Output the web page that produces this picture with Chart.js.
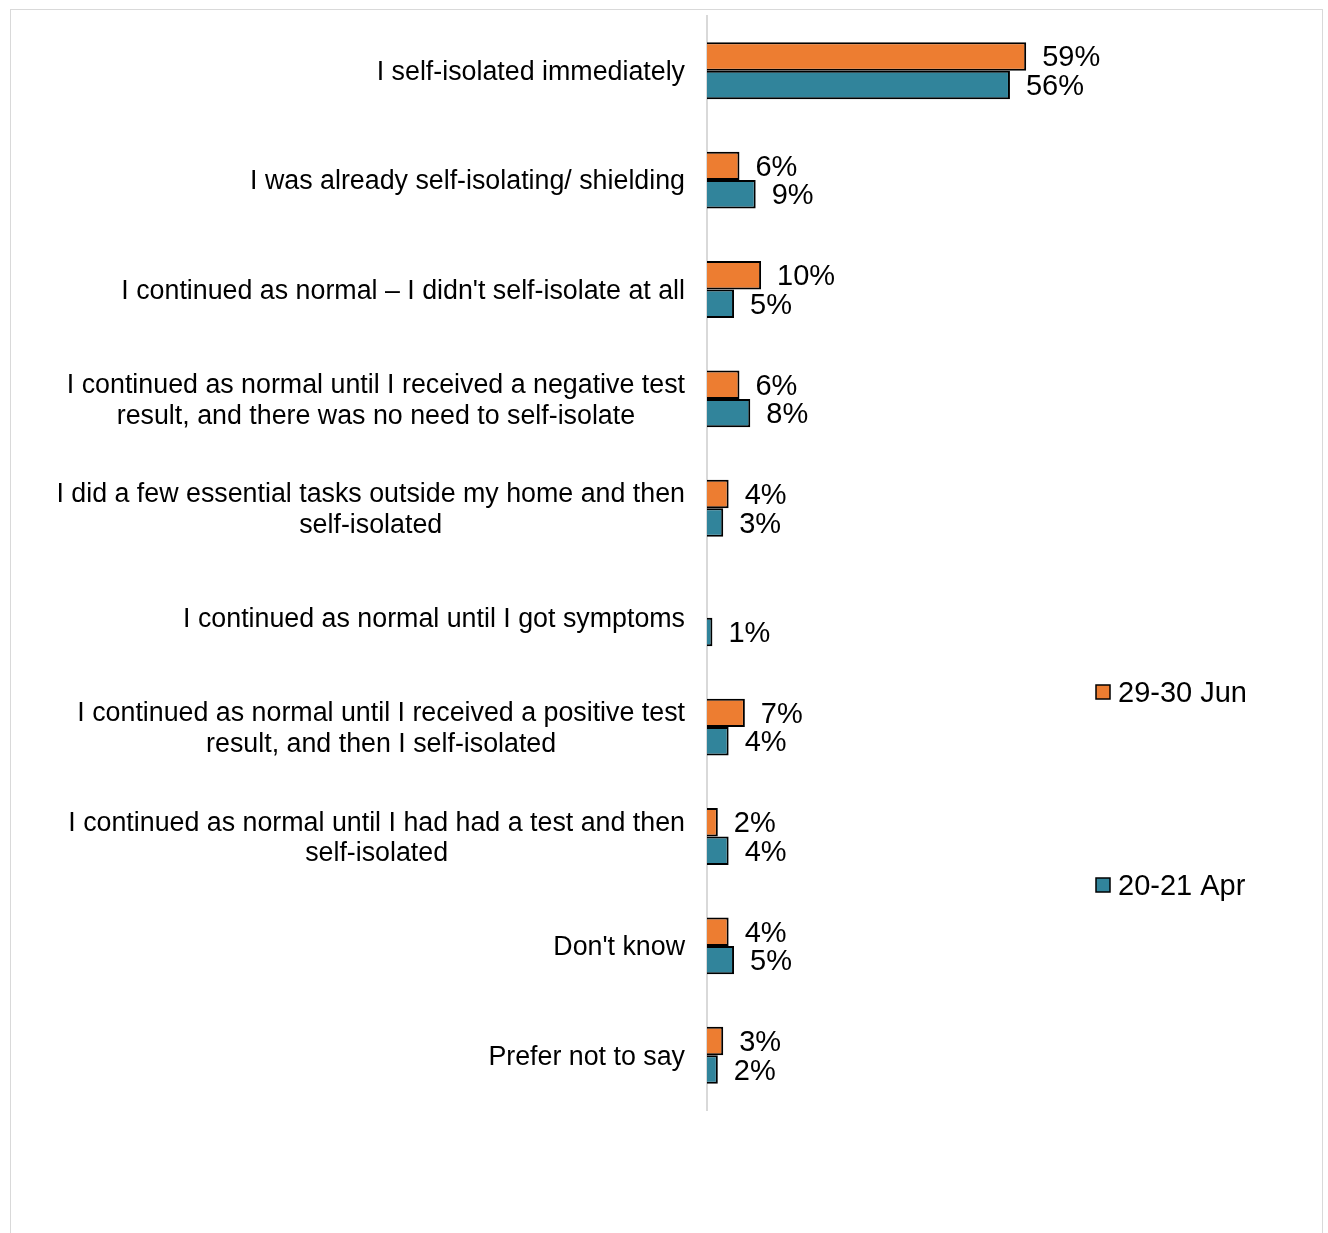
<!DOCTYPE html>
<html>
<head>
<meta charset="utf-8">
<title>Self-isolation behaviour</title>
<script src="https://cdn.jsdelivr.net/npm/chart.js@4.4.1/dist/chart.umd.min.js"></script>
<style>
    html, body { margin: 0; padding: 0; background: #fff; }
    #wrap { position: relative; width: 1328px; height: 1233px; overflow: hidden; }
    #frame { position: absolute; left: 10px; top: 9px; width: 1313px; height: 1300px; border: 1px solid #d9d9d9; box-sizing: border-box; }
    #holder { position: absolute; left: 0; top: 0; width: 1328px; height: 1233px; }
</style>
</head>
<body>
<div id="wrap">
    <div id="frame"></div>
    <div id="holder"><canvas id="grafico"></canvas></div>
</div>
<script>
// --- DATOS ---
const categorias = [
    'I self-isolated immediately',
    'I was already self-isolating/ shielding',
    "I continued as normal \u2013 I didn't self-isolate at all",
    ['I continued as normal until I received a negative test', 'result, and there was no need to self-isolate'],
    ['I did a few essential tasks outside my home and then', 'self-isolated'],
    'I continued as normal until I got symptoms',
    ['I continued as normal until I received a positive test', 'result, and then I self-isolated'],
    ['I continued as normal until I had had a test and then', 'self-isolated'],
    "Don't know",
    'Prefer not to say'
];
const serieJun = [59, 6, 10, 6, 4, null, 7, 2, 4, 3];
const serieAbr = [56, 9, 5, 8, 3, 1, 4, 4, 5, 2];
const nombresSeries = ['29-30 Jun', '20-21 Apr'];
const coloresSeries = ['#ED7D31', '#31849B'];

const FUENTE = '"Liberation Sans", Arial, sans-serif';

// Etiquetas de categoría: cada línea centrada sobre la más ancha, alineadas a la derecha del eje
const etiquetasEje = {
    id: 'etiquetasEje',
    afterDraw(chart) {
        const ctx = chart.ctx;
        const y = chart.scales.y;
        const derecha = chart.chartArea.left - 22;
        const alto = 30.5;
        ctx.save();
        ctx.font = '26.8px ' + FUENTE;
        ctx.fillStyle = '#000';
        ctx.textBaseline = 'middle';
        ctx.textAlign = 'center';
        chart.data.labels.forEach((lab, i) => {
            const lineas = Array.isArray(lab) ? lab : [lab];
            const ancho = Math.max(...lineas.map(l => ctx.measureText(l).width));
            const cx = derecha - ancho / 2;
            const cy = y.getPixelForValue(i) + 2;
            lineas.forEach((l, j) => {
                ctx.fillText(l, cx, cy + (j - (lineas.length - 1) / 2) * alto);
            });
        });
        ctx.restore();
    }
};

// Valores al final de cada barra
const valoresBarras = {
    id: 'valoresBarras',
    afterDatasetsDraw(chart) {
        const ctx = chart.ctx;
        ctx.save();
        ctx.font = '29px ' + FUENTE;
        ctx.fillStyle = '#000';
        ctx.textBaseline = 'middle';
        ctx.textAlign = 'left';
        chart.data.datasets.forEach((ds, d) => {
            chart.getDatasetMeta(d).data.forEach((bar, i) => {
                const v = ds.data[i];
                if (v === null || v === undefined) return;
                ctx.fillText(v + '%', bar.x + 16, bar.y + 2);
            });
        });
        ctx.restore();
    }
};

// Leyenda a la derecha, entradas muy separadas
const leyenda = {
    id: 'leyenda',
    afterDraw(chart) {
        const ctx = chart.ctx;
        const posiciones = [692, 885];
        ctx.save();
        ctx.font = '29px ' + FUENTE;
        ctx.textBaseline = 'middle';
        ctx.textAlign = 'left';
        chart.data.datasets.forEach((ds, d) => {
            const cy = posiciones[d];
            ctx.fillStyle = ds.backgroundColor;
            ctx.fillRect(1096, cy - 7, 14, 14);
            ctx.strokeStyle = '#000';
            ctx.lineWidth = 1.5;
            ctx.strokeRect(1096, cy - 7, 14, 14);
            ctx.fillStyle = '#000';
            ctx.fillText(ds.label, 1118, cy + 2);
        });
        ctx.restore();
    }
};

const ctx = document.getElementById('grafico').getContext('2d');
const grafico = new Chart(ctx, {
    type: 'bar',
    data: {
        labels: categorias,
        datasets: [{
            label: nombresSeries[0],
            data: serieJun,
            backgroundColor: coloresSeries[0],
            borderColor: '#000',
            borderWidth: 2
        }, {
            label: nombresSeries[1],
            data: serieAbr,
            backgroundColor: coloresSeries[1],
            borderColor: '#000',
            borderWidth: 2
        }]
    },
    options: {
        indexAxis: 'y',
        responsive: true,
        maintainAspectRatio: false,
        animation: false,
        layout: {
            padding: { left: 0, top: 16, bottom: 123, right: 80 }
        },
        datasets: {
            bar: {
                barPercentage: 1,
                categoryPercentage: 0.52
            }
        },
        scales: {
            x: {
                display: false,
                min: 0,
                max: 100
            },
            y: {
                ticks: { display: false },
                grid: { display: false },
                border: { display: true, color: '#d9d9d9', width: 2 },
                afterFit(scale) {
                    scale.width = 707;
                }
            }
        },
        plugins: {
            legend: { display: false },
            tooltip: { enabled: false }
        }
    },
    plugins: [etiquetasEje, valoresBarras, leyenda]
});
</script>
</body>
</html>
